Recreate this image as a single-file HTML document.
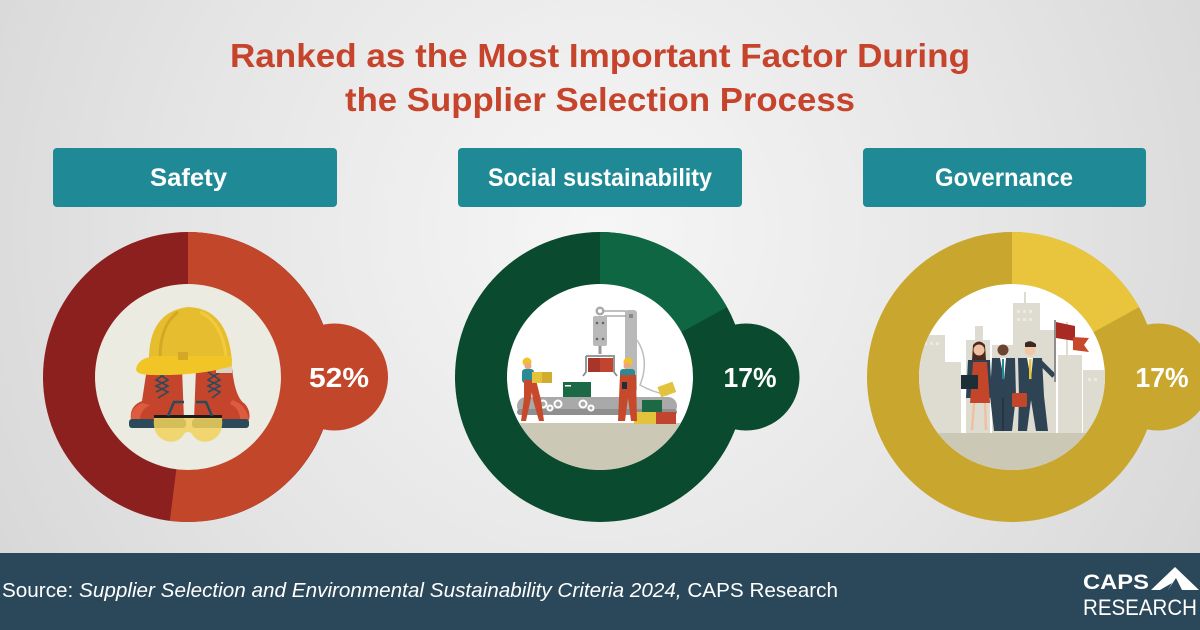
<!DOCTYPE html>
<html>
<head>
<meta charset="utf-8">
<style>
html,body{margin:0;padding:0;width:1200px;height:630px;overflow:hidden;}
svg{display:block;}
text{font-family:"Liberation Sans",sans-serif;}
</style>
</head>
<body>
<svg width="1200" height="630" viewBox="0 0 1200 630" xmlns="http://www.w3.org/2000/svg">
<defs>
  <radialGradient id="bg" cx="600" cy="230" r="760" gradientUnits="userSpaceOnUse">
    <stop offset="0" stop-color="#f6f6f6"/>
    <stop offset="0.55" stop-color="#e5e5e5"/>
    <stop offset="1" stop-color="#d4d4d4"/>
  </radialGradient>
  <clipPath id="c1"><circle cx="188" cy="377" r="93"/></clipPath>
  <clipPath id="c2"><circle cx="600" cy="377" r="93"/></clipPath>
  <clipPath id="c3"><circle cx="1012" cy="377" r="93"/></clipPath>
</defs>

<rect x="0" y="0" width="1200" height="630" fill="url(#bg)"/>

<!-- Title -->
<text x="600" y="67" font-size="33" font-weight="bold" fill="#c6432c" text-anchor="middle" textLength="740" lengthAdjust="spacingAndGlyphs">Ranked as the Most Important Factor During</text>
<text x="600" y="111" font-size="33" font-weight="bold" fill="#c6432c" text-anchor="middle" textLength="510" lengthAdjust="spacingAndGlyphs">the Supplier Selection Process</text>

<!-- Label boxes -->
<rect x="53" y="148" width="284" height="59" rx="4" fill="#1f8a96"/>
<text x="188.5" y="186" font-size="25" font-weight="bold" fill="#ffffff" text-anchor="middle" textLength="77" lengthAdjust="spacingAndGlyphs">Safety</text>

<rect x="458" y="148" width="284" height="59" rx="4" fill="#1f8a96"/>
<text x="600" y="186" font-size="25" font-weight="bold" fill="#ffffff" text-anchor="middle" textLength="224" lengthAdjust="spacingAndGlyphs">Social sustainability</text>

<rect x="863" y="148" width="283" height="59" rx="4" fill="#1f8a96"/>
<text x="1004" y="186" font-size="25" font-weight="bold" fill="#ffffff" text-anchor="middle" textLength="138" lengthAdjust="spacingAndGlyphs">Governance</text>

<!-- ===== Donut 1: Safety ===== -->
<circle cx="188" cy="377" r="145" fill="#8c201e"/>
<path d="M188,377 L188,232 A145,145 0 1 1 169.8,520.9 Z" fill="#c2472a"/>
<circle cx="334.5" cy="377" r="53.5" fill="#c2472a"/>
<circle cx="188" cy="377" r="93" fill="#ecebe2"/>
<g clip-path="url(#c1)">
  <!-- boots -->
  <path d="M147,368 L182,368 L184,420 L131,420 Q129,406 142,401 Z" fill="#c4452c"/>
  <path d="M131,420 Q130,408 142,403 L150,405 Q140,410 140,420 Z" fill="#dd5b3f"/>
  <rect x="129" y="419" width="57" height="9" rx="3" fill="#2b4a5a"/>
  <path d="M196,368 L232,368 Q235,398 245,404 Q251,411 249,420 L194,420 Z" fill="#c4452c"/>
  <path d="M232,400 Q246,404 249,420 L240,420 Q240,408 230,404 Z" fill="#dd5b3f"/>
  <rect x="192" y="419" width="57" height="9" rx="3" fill="#2b4a5a"/>
  <path d="M156,372 L168,380 L156,386 L168,392 L158,398" stroke="#2b4a5a" stroke-width="1.6" fill="none"/>
  <path d="M168,372 L156,380 L168,386 L156,392" stroke="#2b4a5a" stroke-width="1.6" fill="none"/>
  <path d="M208,372 L220,380 L208,386 L220,392 L212,398" stroke="#2b4a5a" stroke-width="1.6" fill="none"/>
  <path d="M220,372 L208,380 L220,386 L208,392" stroke="#2b4a5a" stroke-width="1.6" fill="none"/>
  <!-- hard hat -->
  <rect x="216" y="358" width="16" height="15" fill="#d9d3c5"/>
  <path d="M149,362 Q148,312 188,307 Q228,308 232,362 Z" fill="#e6bd2e"/>
  <path d="M160,358 Q160,325 178,312" stroke="#d4a825" stroke-width="3" fill="none"/>
  <path d="M200,312 Q222,322 226,356" stroke="#f2cb3a" stroke-width="3" fill="none"/>
  <path d="M136,369 Q138,357 158,356 L231,356 L232,366 Q200,376 152,375 Q136,375 136,369 Z" fill="#f2c527"/>
  <rect x="178" y="352" width="10" height="8" fill="#d4a825"/>
  <!-- goggles -->
  <path d="M154,418 L222,418 Q224,436 210,441 Q198,444 192,434 Q188,430 184,434 Q178,444 166,441 Q152,436 154,418 Z" fill="#f2d25a" opacity="0.85"/>
  <rect x="154" y="415" width="68" height="3" fill="#1c1c1c"/>
  <path d="M168,416 L174,402 L184,402" stroke="#2b4a5a" stroke-width="2.5" fill="none"/>
  <path d="M212,416 L206,402 L196,402" stroke="#2b4a5a" stroke-width="2.5" fill="none"/>
</g>
<text x="339" y="387" font-size="28" font-weight="bold" fill="#ffffff" text-anchor="middle" textLength="60" lengthAdjust="spacingAndGlyphs">52%</text>

<!-- ===== Donut 2: Social sustainability ===== -->
<circle cx="600" cy="377" r="145" fill="#0a4a2e"/>
<path d="M600,377 L600,232 A145,145 0 0 1 727,307.1 Z" fill="#0f6643"/>
<circle cx="746" cy="377" r="53.5" fill="#0a4a2e"/>
<circle cx="600" cy="377" r="93" fill="#ffffff"/>
<g clip-path="url(#c2)">
  <rect x="500" y="423" width="200" height="60" fill="#cbc8b6"/>
  <!-- robot column -->
  <rect x="625" y="310" width="12" height="82" rx="3" fill="#b9b9b9"/>
  <rect x="629" y="314" width="4" height="4" fill="#888"/>
  <path d="M604,311 L626,311 M604,316 L626,316" stroke="#9a9a9a" stroke-width="1.2"/>
  <path d="M637,340 Q650,360 640,385 Q652,392 668,395" stroke="#bdbdbd" stroke-width="1.5" fill="none"/>
  <circle cx="600" cy="311" r="4.5" fill="#a8a8a8"/>
  <circle cx="600" cy="311" r="2" fill="#ffffff"/>
  <rect x="593" y="316" width="14" height="30" rx="2" fill="#b9b9b9"/>
  <circle cx="597" cy="323" r="1.3" fill="#666"/><circle cx="603" cy="323" r="1.3" fill="#666"/>
  <circle cx="597" cy="339" r="1.3" fill="#666"/><circle cx="603" cy="339" r="1.3" fill="#666"/>
  <rect x="598.5" y="346" width="3" height="8" fill="#999"/>
  <path d="M586,356 L614,356 L614,372 L617,376 M586,356 L586,372 L583,376" stroke="#8a8a8a" stroke-width="1.8" fill="none"/>
  <rect x="588" y="358" width="25" height="14" fill="#a8352a"/>
  <rect x="600" y="358" width="13" height="14" fill="#c0442e"/>
  <!-- conveyor -->
  <rect x="517" y="397" width="160" height="18" rx="9" fill="#a9a9a9"/>
  <rect x="517" y="409" width="160" height="6" rx="3" fill="#8f8f8f"/>
  <g fill="none" stroke="#ffffff" stroke-width="2">
    <circle cx="543" cy="404" r="3.5"/><circle cx="550" cy="408" r="2.5"/><circle cx="558" cy="404" r="3.5"/>
    <circle cx="583" cy="404" r="3.5"/><circle cx="591" cy="408" r="2.5"/>
  </g>
  <rect x="563" y="382" width="28" height="15" fill="#1c6a45"/>
  <rect x="565" y="385" width="6" height="1.5" fill="#fff"/>
  <!-- right boxes -->
  <rect x="642" y="400" width="20" height="12" fill="#1c6a45"/>
  <rect x="634" y="412" width="22" height="12" fill="#e3c23c"/>
  <rect x="656" y="412" width="20" height="12" fill="#c0442e"/>
  <rect x="659" y="384" width="16" height="11" fill="#e3c23c" transform="rotate(-20 667 390)"/>
  <!-- left worker -->
  <circle cx="527" cy="362" r="4.5" fill="#f0c428"/>
  <circle cx="528" cy="366" r="3.5" fill="#e9a882"/>
  <rect x="522" y="369" width="12" height="14" rx="3" fill="#2a8a96"/>
  <path d="M524,380 L534,380 L531,398 L526,421 L521,421 L524,398 Z" fill="#c7492b"/>
  <path d="M530,380 L536,380 L541,400 L544,421 L539,421 L533,400 Z" fill="#c7492b"/>
  <rect x="532" y="372" width="20" height="11" fill="#e3c23c"/>
  <rect x="542" y="372" width="10" height="11" fill="#d1ad2f"/>
  <!-- right worker -->
  <circle cx="628" cy="362" r="4.5" fill="#f0c428"/>
  <circle cx="627" cy="366" r="3.5" fill="#e9a882"/>
  <rect x="620" y="369" width="15" height="14" rx="3" fill="#2a8a96"/>
  <path d="M620,375 L636,375 L637,421 L631,421 L628,398 L625,421 L618,421 Z" fill="#c7492b"/>
  <rect x="622" y="382" width="5" height="7" fill="#1f2f36"/>
</g>
<text x="750" y="387" font-size="28" font-weight="bold" fill="#ffffff" text-anchor="middle" textLength="53" lengthAdjust="spacingAndGlyphs">17%</text>

<!-- ===== Donut 3: Governance ===== -->
<circle cx="1012" cy="377" r="145" fill="#c9a62d"/>
<path d="M1012,377 L1012,232 A145,145 0 0 1 1139,307.1 Z" fill="#e8c53c"/>
<circle cx="1158" cy="377" r="53.5" fill="#c9a62d"/>
<circle cx="1012" cy="377" r="93" fill="#ffffff"/>
<g clip-path="url(#c3)">
  <g fill="#dedbd0">
    <rect x="918" y="335" width="27" height="100"/>
    <rect x="945" y="362" width="16" height="73"/>
    <rect x="966" y="340" width="24" height="95"/>
    <rect x="975" y="326" width="8" height="15"/>
    <rect x="992" y="345" width="22" height="90"/>
    <rect x="1013" y="303" width="27" height="132"/>
    <rect x="1024" y="292" width="2" height="12"/>
    <rect x="1040" y="330" width="16" height="105"/>
    <rect x="1058" y="355" width="24" height="80"/>
    <rect x="1066" y="322" width="2" height="34"/>
    <rect x="1083" y="370" width="24" height="65"/>
  </g>
  <g fill="#eceae2">
    <rect x="1017" y="310" width="3" height="3"/><rect x="1023" y="310" width="3" height="3"/><rect x="1029" y="310" width="3" height="3"/>
    <rect x="1017" y="318" width="3" height="3"/><rect x="1023" y="318" width="3" height="3"/><rect x="1029" y="318" width="3" height="3"/>
    <rect x="924" y="342" width="3" height="3"/><rect x="930" y="342" width="3" height="3"/><rect x="936" y="342" width="3" height="3"/>
    <rect x="1088" y="378" width="3" height="3"/><rect x="1094" y="378" width="3" height="3"/>
  </g>
  <rect x="900" y="433" width="230" height="50" fill="#cbc8b6"/>
  <!-- woman -->
  <path d="M973,345 Q979,338 985,345 L986,360 L972,360 Z" fill="#4a2a20"/>
  <circle cx="979" cy="350" r="5.5" fill="#f0c0a0"/>
  <path d="M968,360 L990,360 L992,398 L966,398 Z" fill="#2c4152"/>
  <path d="M973,362 L987,362 L990,403 L970,403 Z" fill="#c4462a"/>
  <path d="M974,403 L972,430 M985,403 L986,430" stroke="#f0c0a0" stroke-width="2.5"/>
  <rect x="961" y="375" width="17" height="14" fill="#1e2e36"/>
  <!-- man 2 -->
  <circle cx="1003" cy="350" r="5.5" fill="#6b4330"/>
  <path d="M992,358 L1015,358 L1016,396 L1012,431 L994,431 L990,396 Z" fill="#2e4353"/>
  <path d="M1000,358 L1006,358 L1004,380 Z" fill="#ffffff"/>
  <rect x="1002" y="359" width="2" height="20" fill="#1f8a96"/>
  <path d="M1003,398 L1003,431" stroke="#22323e" stroke-width="1.5"/>
  <!-- man 3 -->
  <circle cx="1030" cy="350" r="5.5" fill="#f2c7a8"/>
  <path d="M1025,343 Q1030,339 1036,344 L1036,347 L1025,347 Z" fill="#3a2a22"/>
  <path d="M1018,358 L1042,358 L1044,396 L1048,431 L1036,431 L1031,400 L1027,431 L1018,431 L1019,396 Z" fill="#2e4353"/>
  <path d="M1027,358 L1033,358 L1031,380 Z" fill="#ffffff"/>
  <rect x="1029" y="359" width="2.5" height="20" fill="#e8c53c"/>
  <path d="M1040,362 L1054,376" stroke="#2e4353" stroke-width="5"/>
  <rect x="1012" y="393" width="15" height="14" rx="1.5" fill="#c4462a"/>
  <!-- flag -->
  <path d="M1055,320 L1055,382" stroke="#7a7a7a" stroke-width="1.6"/>
  <path d="M1056,322 L1075,326 L1075,341 L1056,338 Z" fill="#a82a22"/>
  <path d="M1073,337 L1089,338 L1084,345 L1089,352 L1073,350 Z" fill="#c8482a"/>
</g>
<text x="1162" y="387" font-size="28" font-weight="bold" fill="#ffffff" text-anchor="middle" textLength="53" lengthAdjust="spacingAndGlyphs">17%</text>

<!-- ===== Footer ===== -->
<rect x="0" y="553" width="1200" height="77" fill="#2a4859"/>
<text x="2" y="597" font-size="20" fill="#ffffff" textLength="836" lengthAdjust="spacingAndGlyphs">Source: <tspan font-style="italic">Supplier Selection and Environmental Sustainability Criteria 2024,</tspan> CAPS Research</text>

<!-- Logo -->
<text x="1083" y="589" font-size="21" font-weight="bold" fill="#ffffff" textLength="66" lengthAdjust="spacingAndGlyphs">CAPS</text>
<text x="1083" y="615" font-size="22" fill="#ffffff" textLength="114" lengthAdjust="spacingAndGlyphs">RESEARCH</text>
<polygon points="1151,590 1175,567 1199,590" fill="#ffffff"/>
<polygon points="1168,590 1176,578 1182,590" fill="#2a4859"/>
<polygon points="1160,590 1172,583 1168,590" fill="#2a4859"/>
</svg>
</body>
</html>
